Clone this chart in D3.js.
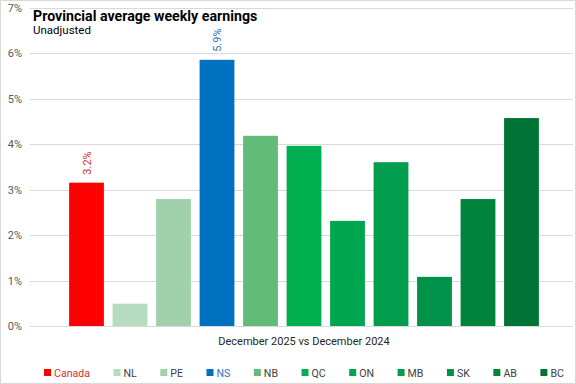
<!DOCTYPE html>
<html lang="en">
<head>
    <meta charset="UTF-8">
    <title>Provincial average weekly earnings</title>
    <script src="https://d3js.org/d3.v7.min.js"></script>
    <style>
        body { margin: 0; background: #fff; }
        svg { font-family: Roboto, "Noto Sans", sans-serif; }
        .grid-line { stroke: #d9d9d9; stroke-width: 1; }
        .tick-label { font-size: 11px; fill: #595959; text-anchor: end; }
        .chart-title { font-size: 14.2px; font-weight: bold; fill: #000; }
        .chart-sub { font-size: 11.5px; fill: #000; }
        .axis-name { font-size: 11px; fill: #262626; text-anchor: middle; }
        .legend-text { font-size: 10.6px; fill: #404040; }
        .bar-label { font-size: 11px; text-anchor: start; }
    </style>
</head>
<body>
    <script>
        const regions = ['Canada', 'NL', 'PE', 'NS', 'NB', 'QC', 'ON', 'MB', 'SK', 'AB', 'BC'];
        const earningsChange = [3.15, 0.49, 2.79, 5.85, 4.18, 3.96, 2.31, 3.6, 1.08, 2.79, 4.57];
        const barColors = ['#ff0000', '#b5dcbe', '#a1d1ab', '#0070c0', '#63bb7a', '#00b050', '#00a550', '#009d4d', '#009248', '#00843c', '#007434'];
        const yTicks = [0, 1, 2, 3, 4, 5, 6, 7];
        const labelled = { Canada: '3.2%', NS: '5.9%' };
        const labelColors = { Canada: '#d03030', NS: '#2e75b6' };

        const data = regions.map((r, i) => ({ region: r, value: earningsChange[i], color: barColors[i] }));

        const svg = d3.select('body').append('svg')
            .attr('width', 576)
            .attr('height', 384);

        // outer frame
        svg.append('rect')
            .attr('x', 0.5).attr('y', 0.5)
            .attr('width', 575).attr('height', 383)
            .attr('fill', 'none')
            .attr('stroke', '#d9d9d9');

        const xScale = d3.scaleBand()
            .domain(regions)
            .range([64.75, 543.25])
            .paddingInner(0.2)
            .paddingOuter(0.1);

        const yScale = d3.scaleLinear()
            .domain([0, 7])
            .range([326, 7.5]);

        // gridlines
        svg.selectAll('.grid-line')
            .data(yTicks)
            .enter().append('line')
            .attr('class', 'grid-line')
            .attr('x1', 30)
            .attr('x2', 573)
            .attr('y1', d => Math.round(yScale(d)) + 0.5)
            .attr('y2', d => Math.round(yScale(d)) + 0.5);

        svg.selectAll('.tick-label')
            .data(yTicks)
            .enter().append('text')
            .attr('class', 'tick-label')
            .attr('x', 22)
            .attr('y', d => yScale(d) + 4)
            .text(d => d + '%');

        // bars
        svg.selectAll('.bar')
            .data(data)
            .enter().append('rect')
            .attr('class', 'bar')
            .attr('x', d => xScale(d.region))
            .attr('width', xScale.bandwidth())
            .attr('y', d => yScale(d.value))
            .attr('height', d => yScale(0) - yScale(d.value))
            .attr('fill', d => d.color);

        // rotated value labels
        svg.selectAll('.bar-label')
            .data(data.filter(d => labelled[d.region]))
            .enter().append('text')
            .attr('class', 'bar-label')
            .attr('transform', d => `translate(${xScale(d.region) + xScale.bandwidth() / 2 + 4},${yScale(d.value) - 8}) rotate(-90)`)
            .attr('fill', d => labelColors[d.region])
            .text(d => labelled[d.region]);

        svg.append('text')
            .attr('class', 'chart-title')
            .attr('x', 33)
            .attr('y', 21)
            .text('Provincial average weekly earnings');

        svg.append('text')
            .attr('class', 'chart-sub')
            .attr('x', 33)
            .attr('y', 34)
            .text('Unadjusted');

        svg.append('text')
            .attr('class', 'axis-name')
            .attr('x', 304)
            .attr('y', 345)
            .text('December 2025 vs December 2024');

        // legend: entries laid out by their text width, like Excel does
        const legend = svg.selectAll('.legend')
            .data(data)
            .enter().append('g')
            .attr('class', 'legend');

        legend.append('rect')
            .attr('x', 0)
            .attr('y', 369)
            .attr('width', 7)
            .attr('height', 7)
            .attr('fill', d => d.color);

        legend.append('text')
            .attr('class', 'legend-text')
            .attr('x', 10)
            .attr('y', 376.5)
            .style('fill', d => labelColors[d.region] || '#404040')
            .text(d => d.region);

        let lx = 44;
        legend.each(function () {
            const g = d3.select(this);
            g.attr('transform', `translate(${lx},0)`);
            lx += 10 + g.select('text').node().getComputedTextLength() + 23.5;
        });
    </script>
</body>
</html>
